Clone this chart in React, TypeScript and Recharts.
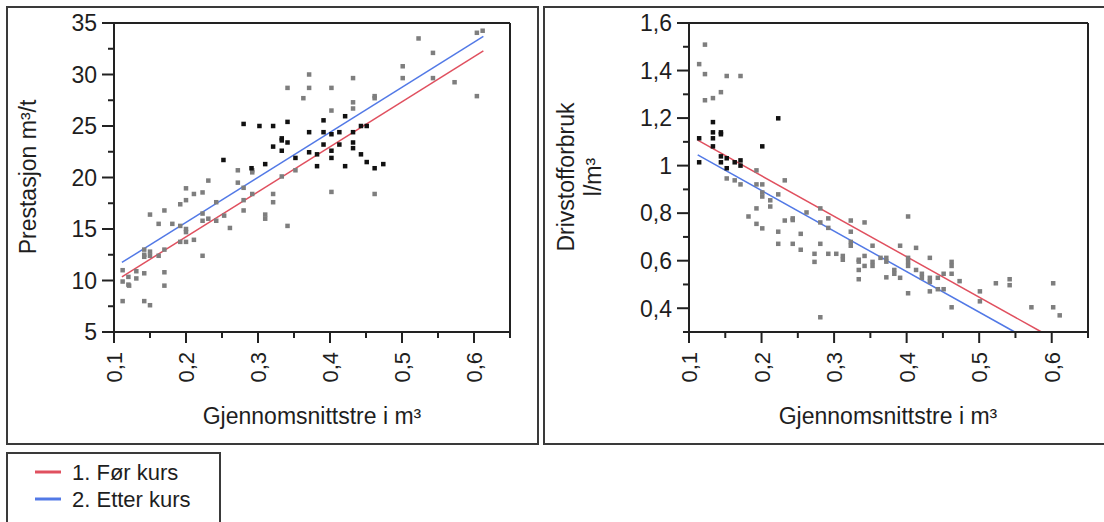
import React from 'react';
import { ScatterChart, Scatter, XAxis, YAxis, ReferenceLine } from 'recharts';

const FONT = '"Liberation Sans", Arial, sans-serif';
const TEXT = '#1e1e1e';
const AXIS = '#222';
const FRAME = '#3a3a3a';
const RED = '#e0505f';
const BLUE = '#5279e6';
const GREY_PT = '#7e7e7e';
const BLACK_PT = '#111';

// x axis (Gjennomsnittstre i m³), shared by both panels
const xTicks = [0.1, 0.15, 0.2, 0.25, 0.3, 0.35, 0.4, 0.45, 0.5, 0.55, 0.6, 0.65];
const prestTicks = [5, 7.5, 10, 12.5, 15, 17.5, 20, 22.5, 25, 27.5, 30, 32.5, 35];
const drivTicks = [0.3, 0.4, 0.5, 0.6, 0.7, 0.8, 0.9, 1, 1.1, 1.2, 1.3, 1.4, 1.5, 1.6];

// Prestasjon m³/t
const prestGrey: [number, number][] = [
  [0.112, 11.0], [0.112, 9.9], [0.112, 8.0], [0.12, 10.35], [0.12, 9.6], [0.121, 9.5],
  [0.131, 10.9], [0.131, 10.2], [0.142, 13.0], [0.142, 12.5], [0.142, 12.3], [0.15, 12.8],
  [0.15, 12.4], [0.142, 10.7], [0.142, 8.0], [0.15, 7.6], [0.15, 16.4], [0.162, 15.5],
  [0.162, 12.4], [0.17, 16.8], [0.17, 13.0], [0.17, 10.8], [0.17, 9.5], [0.181, 15.5],
  [0.192, 17.4], [0.192, 15.3], [0.192, 13.75], [0.2, 18.95], [0.2, 17.8], [0.2, 15.0],
  [0.2, 14.7], [0.2, 13.75], [0.211, 18.4], [0.211, 13.95], [0.223, 18.55], [0.223, 16.5],
  [0.223, 15.8], [0.223, 12.4], [0.231, 19.7], [0.231, 16.0], [0.242, 17.6], [0.242, 15.8],
  [0.253, 16.3], [0.261, 15.1], [0.272, 20.7], [0.272, 19.5], [0.28, 19.0], [0.28, 17.8],
  [0.28, 16.8], [0.292, 20.7], [0.292, 20.5], [0.292, 18.4], [0.31, 16.4], [0.31, 16.0],
  [0.321, 18.4], [0.321, 17.6], [0.333, 20.1], [0.341, 28.7], [0.341, 15.3], [0.352, 20.7],
  [0.363, 27.7], [0.371, 30.0], [0.371, 28.7], [0.402, 28.7], [0.402, 26.5], [0.402, 18.6],
  [0.432, 29.65], [0.432, 27.3], [0.432, 26.7], [0.462, 27.9], [0.462, 27.7], [0.462, 18.4],
  [0.501, 30.8], [0.501, 29.65], [0.523, 33.5], [0.543, 32.1], [0.543, 29.65], [0.573, 29.25],
  [0.604, 34.05], [0.612, 34.25], [0.604, 27.9],
];
const prestBlack: [number, number][] = [
  [0.28, 25.2], [0.302, 25.0], [0.321, 25.0], [0.341, 25.4], [0.252, 21.7], [0.291, 20.9],
  [0.31, 21.3], [0.321, 23.0], [0.333, 23.8], [0.333, 23.6], [0.341, 23.4], [0.333, 22.6],
  [0.352, 21.9], [0.371, 24.4], [0.371, 22.45], [0.382, 22.25], [0.382, 21.1], [0.391, 25.55],
  [0.391, 24.4], [0.391, 23.2], [0.402, 24.2], [0.402, 22.6], [0.402, 21.9], [0.413, 24.4],
  [0.413, 23.2], [0.421, 25.95], [0.421, 21.1], [0.432, 24.4], [0.432, 23.4], [0.432, 22.85],
  [0.443, 25.0], [0.451, 25.0], [0.443, 22.25], [0.451, 21.5], [0.462, 20.9], [0.474, 21.3],
];
const prestFor: [number, number][] = [[0.111, 10.35], [0.613, 32.3]];
const prestEtter: [number, number][] = [[0.111, 11.75], [0.613, 33.7]];

// Drivstofforbruk l/m³
const drivGrey: [number, number][] = [
  [0.114, 1.427], [0.122, 1.509], [0.122, 1.385], [0.122, 1.275], [0.133, 1.284], [0.144, 1.309],
  [0.152, 1.377], [0.171, 1.377], [0.152, 0.946], [0.163, 0.938], [0.171, 0.921], [0.182, 0.786],
  [0.193, 0.98], [0.193, 0.921], [0.193, 0.82], [0.193, 0.755], [0.201, 0.921], [0.201, 0.887],
  [0.201, 0.87], [0.201, 0.736], [0.212, 0.854], [0.212, 0.828], [0.223, 0.879], [0.223, 0.722],
  [0.223, 0.671], [0.232, 0.938], [0.232, 0.769], [0.243, 0.778], [0.243, 0.771], [0.243, 0.671],
  [0.254, 0.713], [0.254, 0.646], [0.262, 0.803], [0.273, 0.629], [0.273, 0.595], [0.281, 0.82],
  [0.281, 0.761], [0.281, 0.671], [0.281, 0.362], [0.292, 0.778], [0.292, 0.738], [0.292, 0.629],
  [0.303, 0.629], [0.312, 0.62], [0.312, 0.604], [0.323, 0.769], [0.323, 0.722], [0.323, 0.679],
  [0.323, 0.663], [0.334, 0.604], [0.334, 0.596], [0.334, 0.561], [0.334, 0.522], [0.342, 0.761],
  [0.342, 0.62], [0.342, 0.578], [0.353, 0.663], [0.353, 0.595], [0.353, 0.578], [0.364, 0.612],
  [0.372, 0.612], [0.372, 0.596], [0.372, 0.53], [0.383, 0.561], [0.383, 0.545], [0.391, 0.663],
  [0.391, 0.528], [0.402, 0.786], [0.402, 0.612], [0.402, 0.595], [0.402, 0.578], [0.402, 0.463],
  [0.413, 0.654], [0.413, 0.561], [0.421, 0.545], [0.421, 0.528], [0.432, 0.612], [0.432, 0.528],
  [0.432, 0.511], [0.432, 0.471], [0.443, 0.528], [0.443, 0.48], [0.451, 0.545], [0.451, 0.48],
  [0.462, 0.595], [0.462, 0.578], [0.462, 0.545], [0.462, 0.404], [0.473, 0.514], [0.501, 0.471],
  [0.501, 0.429], [0.523, 0.505], [0.542, 0.522], [0.542, 0.497], [0.572, 0.404], [0.602, 0.505],
  [0.602, 0.404], [0.611, 0.37],
];
const drivBlack: [number, number][] = [
  [0.114, 1.115], [0.114, 1.014], [0.133, 1.183], [0.133, 1.14], [0.133, 1.115], [0.133, 1.081],
  [0.144, 1.14], [0.144, 1.132], [0.144, 1.039], [0.144, 1.014], [0.152, 1.031], [0.152, 0.989],
  [0.163, 1.014], [0.171, 1.022], [0.171, 1.0], [0.201, 1.081], [0.223, 1.199],
];
const drivFor: [number, number][] = [[0.112, 1.107], [0.586, 0.3]];
const drivEtter: [number, number][] = [[0.112, 1.045], [0.549, 0.3]];

const legendItems = [
  { name: '1. Før kurs', color: RED },
  { name: '2. Etter kurs', color: BLUE },
];

const toPts = (arr: [number, number][]) => arr.map(([x, y]) => ({ x, y }));
const fmt = (v: number) => String(v).replace('.', ',');

const square = (fill: string) => (p: any) => (
  <rect x={p.cx - 2.25} y={p.cy - 2.25} width={4.5} height={4.5} fill={fill} />
);

const XTick = (props: any) => {
  const { x, y, payload } = props;
  const v = payload.value;
  const major = Math.round(v * 100) % 10 === 0;
  return (
    <g>
      <line x1={x} y1={y} x2={x} y2={y + (major ? 11 : 6)} stroke={AXIS} strokeWidth={2} />
      {major && (
        <text
          transform={`translate(${x + 8},${y + 20}) rotate(-90)`}
          textAnchor="end"
          fontSize={22}
          fontFamily={FONT}
          fill={TEXT}
        >
          {fmt(v)}
        </text>
      )}
    </g>
  );
};

const makeYTick = (isMajor: (v: number) => boolean) => (props: any) => {
  const { x, y, payload } = props;
  const v = payload.value;
  const major = isMajor(v);
  return (
    <g>
      <line x1={x} y1={y} x2={x - (major ? 12 : 6)} y2={y} stroke={AXIS} strokeWidth={2} />
      {major && (
        <text x={x - 17} y={y} dy="0.36em" textAnchor="end" fontSize={23} fontFamily={FONT} fill={TEXT}>
          {fmt(v)}
        </text>
      )}
    </g>
  );
};

const PrestTick = makeYTick((v) => v % 5 === 0);
const DrivTick = makeYTick((v) => Math.round(v * 10) % 2 === 0);

interface PanelProps {
  grey: [number, number][];
  black: [number, number][];
  before: [number, number][];
  after: [number, number][];
  yDomain: [number, number];
  yTicks: number[];
  yTick: (p: any) => React.ReactElement;
  yWidth: number;
  width: number;
  right: number;
}

const Panel: React.FC<PanelProps> = ({ grey, black, before, after, yDomain, yTicks, yTick, yWidth, width, right }) => (
  <ScatterChart width={width} height={445} margin={{ top: 23, right, bottom: 0, left: 0 }}>
    <XAxis
      type="number"
      dataKey="x"
      domain={[0.1, 0.65]}
      ticks={xTicks}
      allowDataOverflow
      height={113}
      tickSize={0}
      tickMargin={0}
      tickLine={false}
      tick={XTick}
      axisLine={{ stroke: AXIS, strokeWidth: 2 }}
      interval={0}
    />
    <YAxis
      type="number"
      dataKey="y"
      domain={yDomain}
      ticks={yTicks}
      allowDataOverflow
      width={yWidth}
      tickSize={0}
      tickMargin={0}
      tickLine={false}
      tick={yTick}
      axisLine={{ stroke: AXIS, strokeWidth: 2 }}
      interval={0}
    />
    <ReferenceLine y={yDomain[1]} stroke={AXIS} strokeWidth={2} />
    <ReferenceLine x={0.65} stroke={AXIS} strokeWidth={2} />
    <Scatter data={toPts(grey)} shape={square(GREY_PT)} isAnimationActive={false} />
    <Scatter data={toPts(black)} shape={square(BLACK_PT)} isAnimationActive={false} />
    <ReferenceLine
      segment={before.map(([x, y]) => ({ x, y }))}
      stroke={RED}
      strokeWidth={1.5}
    />
    <ReferenceLine
      segment={after.map(([x, y]) => ({ x, y }))}
      stroke={BLUE}
      strokeWidth={1.5}
    />
  </ScatterChart>
);

const box = (left: number, top: number, width: number, height: number): React.CSSProperties => ({
  position: 'absolute',
  left,
  top,
  width,
  height,
  boxSizing: 'border-box',
  border: `2px solid ${FRAME}`,
});

export default function App() {
  const textProps = { fontSize: 23, fontFamily: FONT, fill: TEXT };
  return (
    <div style={{ position: 'absolute', left: 0, top: 0, width: 1104, height: 522, overflow: 'hidden', background: '#fff' }}>
      <div style={box(6, 6, 533, 439)} />
      <div style={box(543, 6, 600, 439)} />
      <div style={box(6, 452, 215, 100)} />
      <div style={{ position: 'absolute', left: 0, top: 0 }}>
        <Panel
          grey={prestGrey}
          black={prestBlack}
          before={prestFor}
          after={prestEtter}
          yDomain={[5, 35]}
          yTicks={prestTicks}
          yTick={PrestTick}
          yWidth={114}
          width={540}
          right={30}
        />
      </div>
      <div style={{ position: 'absolute', left: 544, top: 0 }}>
        <Panel
          grey={drivGrey}
          black={drivBlack}
          before={drivFor}
          after={drivEtter}
          yDomain={[0.3, 1.6]}
          yTicks={drivTicks}
          yTick={DrivTick}
          yWidth={145}
          width={560}
          right={16}
        />
      </div>
      <svg width={1104} height={522} style={{ position: 'absolute', left: 0, top: 0, pointerEvents: 'none' }}>
        <text transform="translate(36,177) rotate(-90)" textAnchor="middle" {...textProps}>
          Prestasjon m³/t
        </text>
        <text x={312} y={424} textAnchor="middle" {...textProps}>
          Gjennomsnittstre i m³
        </text>
        <text transform="translate(574,177) rotate(-90)" textAnchor="middle" {...textProps}>
          Drivstofforbruk
        </text>
        <text transform="translate(601,177) rotate(-90)" textAnchor="middle" {...textProps}>
          l/m³
        </text>
        <text x={888} y={424} textAnchor="middle" {...textProps}>
          Gjennomsnittstre i m³
        </text>
        {legendItems.map((item, i) => (
          <g key={item.name}>
            <line x1={35} x2={61} y1={472 + i * 27} y2={472 + i * 27} stroke={item.color} strokeWidth={3} />
            <text x={72} y={480 + i * 27} {...textProps} fontSize={22}>
              {item.name}
            </text>
          </g>
        ))}
      </svg>
    </div>
  );
}
